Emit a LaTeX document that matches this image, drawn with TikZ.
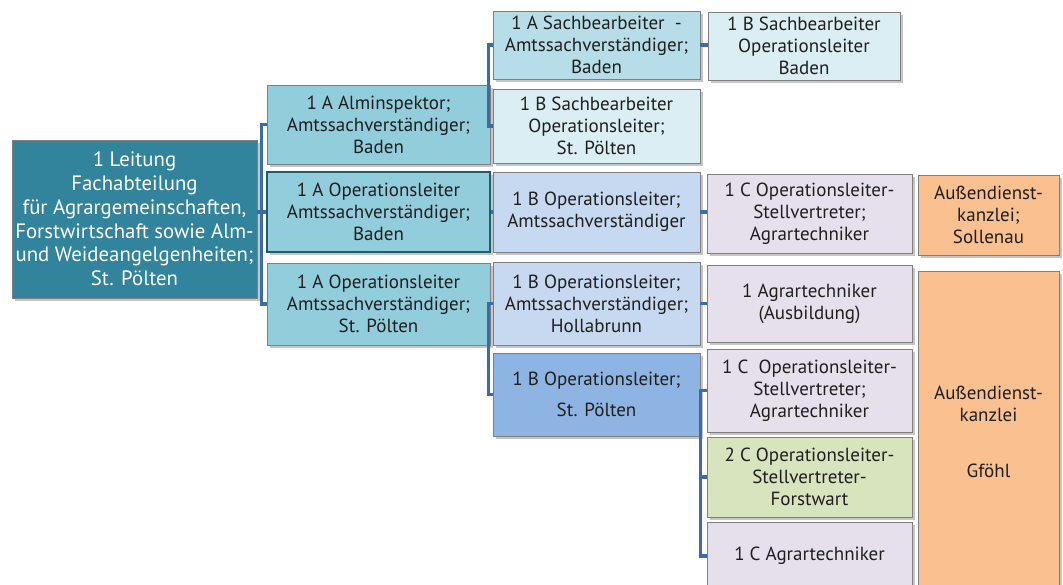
\documentclass[tikz,border=0pt]{standalone}
\usepackage{fontspec}
\setmainfont{PT Sans}
\usetikzlibrary{shadows}
\definecolor{linkblue}{HTML}{3B6BA8}
\definecolor{rootfill}{HTML}{31849B}
\definecolor{afill}{HTML}{92CDDC}
\definecolor{bfillA}{HTML}{B7DEE8}
\definecolor{pale}{HTML}{DAEEF3}
\definecolor{bfillB}{HTML}{C6D9F1}
\definecolor{bfillC}{HTML}{8EB4E3}
\definecolor{cfill}{HTML}{E5E0EC}
\definecolor{gfill}{HTML}{D7E4BD}
\definecolor{ofill}{HTML}{FAC090}
\definecolor{edge}{HTML}{7F7F7F}
\begin{document}
\begin{tikzpicture}[x=1pt,y=-1pt,
  box/.style={draw=edge, line width=0.8pt, align=center, inner sep=0pt,
    text=black!88, font=\fontsize{19}{22}\selectfont,
    drop shadow={shadow xshift=2.5pt,shadow yshift=-3pt,opacity=0.28,fill=black!80}},
  rootbox/.style={box, fill=rootfill, text=white, font=\fontsize{20.8}{23.8}\selectfont},
  abox/.style={box, fill=afill, minimum width=223pt},
  bcol/.style={box, minimum width=207pt},
  ccol/.style={box, fill=cfill, minimum width=205pt},
  obox/.style={box, fill=ofill, minimum width=141pt},
  link/.style={draw=linkblue, line width=3.5pt}]
\useasboundingbox (0,0) rectangle (1063,585);

% root
\node[rootbox, minimum width=245pt, minimum height=158pt] (root) at (134.5,219)
 {1 Leitung\\ Fachabteilung\\ für Agrargemeinschaften,\\ Forstwirtschaft sowie Alm-\\ und Weideangelgenheiten;\\ St. Pölten};

% A column
\node[abox, minimum height=79pt] (a1) at (378.5,124.5)
 {1 A Alminspektor;\\ Amtssachverständiger;\\ Baden};
\node[abox, draw=rootfill!70!black, line width=1.2pt, minimum height=80pt] (a2) at (378.5,212)
 {1 A Operationsleiter\\ Amtssachverständiger;\\ Baden};
\node[abox, minimum height=82pt] (a3) at (378.5,304)
 {1 A Operationsleiter\\ Amtssachverständiger;\\ St. Pölten};

% B column
\node[bcol, fill=bfillA, minimum height=68pt] (b1) at (596.5,45)
 {1 A Sachbearbeiter~ -\\ Amtssachverständiger;\\ Baden};
\node[bcol, fill=pale, minimum height=74pt] (b2) at (596.5,126)
 {1 B Sachbearbeiter\\ Operationsleiter;\\ St. Pölten};
\node[bcol, fill=bfillB, minimum height=80pt] (b3) at (596.5,212)
 {1 B Operationsleiter;\\ Amtssachverständiger};
\node[bcol, fill=bfillB, minimum height=83pt] (b4) at (596.5,303.5)
 {1 B Operationsleiter;\\ Amtssachverständiger;\\ Hollabrunn};
\node[bcol, fill=bfillC, minimum height=83pt] (b5) at (596.5,394.5)
 {1 B Operationsleiter;\\[9pt] St. Pölten};

% C column
\node[box, fill=pale, minimum width=192pt, minimum height=68pt] (c0) at (804,46)
 {1 B Sachbearbeiter\\ Operationsleiter\\ Baden};
\node[ccol, minimum height=79pt] (c1) at (809.5,213.5)
 {1 C Operationsleiter-\\ Stellvertreter;\\ Agrartechniker};
\node[ccol, minimum height=77pt] (c2) at (809.5,303.5)
 {1 Agrartechniker\\ (Ausbildung)};
\node[ccol, minimum height=83pt] (c3) at (809.5,390.5)
 {1 C~ Operationsleiter-\\ Stellvertreter;\\ Agrartechniker};
\node[ccol, fill=gfill, minimum height=80pt] (c4) at (809.5,477)
 {2 C Operationsleiter-\\ Stellvertreter-\\ Forstwart};
\node[ccol, minimum height=68pt] (c5) at (809.5,556)
 {1 C Agrartechniker};

% offices
\node[obox, minimum height=80pt] (o1) at (988.5,215)
 {Außendienst-\\ kanzlei;\\ Sollenau};
\node[obox, minimum height=321pt] (o2) at (988.5,431.5)
 {Außendienst-\\ kanzlei\\[34pt] Gföhl};

% connectors
\draw[link] (a1.west) -- ++(-5,0) coordinate (ra) |- (a3.west);
\draw[link] (root.east |- a2.west) -- (a2.west);
\draw[link] (b1.west) -- ++(-4,0) coordinate (rb) |- (b2.west);
\draw[link] (a1.east) -- (a1.east -| rb);
\draw[link] (a2.east) -- (b3.west);
\draw[link] (b4.west) -- ++(-4,0) coordinate (rc) |- (b5.west);
\draw[link] (a3.east) -- (a3.east -| rc);
\draw[link] (b1.east) -- (c0.west |- b1.east);
\draw[link] (b3.east) -- (c1.west |- b3.east);
\draw[link] (b4.east) -- (c2.west |- b4.east);
\draw[link] (c3.west) -- ++(-6,0) coordinate (rd) |- (c5.west);
\draw[link] (rd |- c4.west) -- (c4.west);
\draw[link] (b5.east) -- (rd |- b5.east);
\end{tikzpicture}
\end{document}
